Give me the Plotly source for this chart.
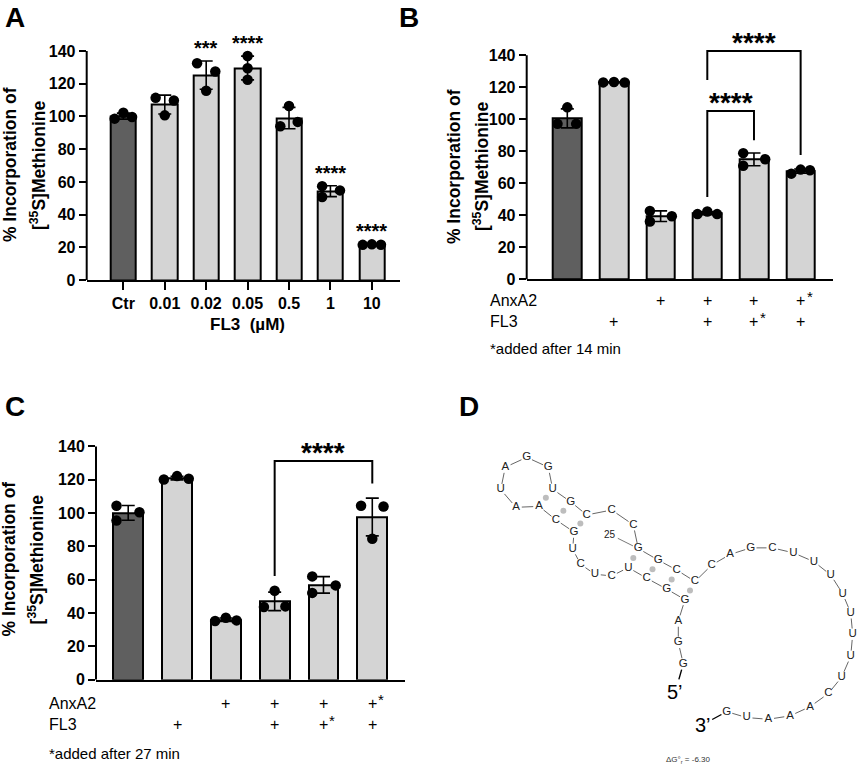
import numpy as np
import plotly.graph_objects as go

W, H = 858, 775

# ---------------- data ----------------
# panel A: FL3 dose series, three replicates per condition (% incorporation)
a_labels = ["Ctr", "0.01", "0.02", "0.05", "0.5", "1", "10"]
a_reps = [
    [98.7, 102.3, 99.7],
    [111.4, 100.7, 109.8],
    [132.6, 115.8, 127.5],
    [137.0, 129.5, 122.5],
    [94.0, 106.4, 96.7],
    [57.4, 50.8, 54.8],
    [21.5, 21.8, 21.6],
]
a_sig = ["", "", "***", "****", "", "****", "****"]

# panel B: AnxA2 / FL3 combinations (FL3 or AnxA2 added after 14 min)
b_reps = [
    [97.2, 107.5, 97.2],
    [123.1, 123.3, 123.0],
    [42.8, 36.2, 39.5],
    [40.8, 42.4, 40.8],
    [78.9, 71.0, 75.1],
    [66.1, 68.6, 68.2],
]
b_anx = ["", "", "+", "+", "+", "+*"]
b_fl3 = ["", "+", "", "+", "+*", "+"]

# panel C: same design, added after 27 min
c_reps = [
    [104.4, 95.5, 100.5],
    [120.2, 122.2, 120.6],
    [35.2, 37.2, 35.6],
    [43.6, 53.4, 44.0],
    [62.0, 52.1, 56.6],
    [104.4, 84.6, 104.0],
]
c_anx = ["", "", "+", "+", "+", "+*"]
c_fl3 = ["", "+", "", "+", "+*", "+"]

# panel D: RNA secondary structure (nucleotide layout in figure pixels)
rna_seq = "GGAGGCUCUCUGCAAUAGGUGCCCGGCCCAGCUUUUUUUUCAAAUG"
rna_x = [683.3, 678.3, 678.3, 685, 666.7, 646.7, 628.3, 611.7, 595, 580.7,
         572.7, 574, 556, 539, 516, 500.7, 505.3, 526.7, 548.3, 552.7,
         570.7, 586.7, 611.7, 633.3, 638.3, 658.3, 676.7, 695, 711.7, 730,
         750.7, 772.3, 793.3, 814, 830.7, 842.7, 850.7, 852.7, 850.7, 841.7,
         828.3, 810, 790, 768.3, 746.7, 726.7]
rna_y = [671.7, 650, 628.3, 606.7, 596, 585, 574.3, 582.7, 581, 571,
         555.7, 538.3, 526, 512.3, 513.3, 495.3, 472.7, 462.7, 472.7, 495,
         507.7, 521, 516, 531, 555, 566.7, 576.7, 588.3, 571.7, 561,
         554.3, 554.3, 559.3, 568.3, 581.7, 600.7, 620, 641.7, 664, 685,
         701.7, 715, 724.3, 727.7, 726, 720]
pair_i = [14, 13, 12, 7, 6, 5, 4]
pair_j = [20, 21, 22, 25, 26, 27, 28]
dG_text = "ΔG°<sub>r</sub> = -6.30"

# horizontal nudges of replicate dots (Prism-style spreading)
a_jit = [[-0.21, 0, 0.21], [-0.22, 0, 0.22], [-0.22, 0, 0.22], [0, 0, 0],
         [-0.21, 0, 0.21], [-0.2, -0.2, 0.23], [-0.22, 0, 0.22]]
b_jit = [[-0.21, 0, 0.19], [-0.23, 0, 0.23], [-0.23, -0.23, 0.24],
         [-0.21, 0, 0.21], [-0.23, -0.23, 0.24], [-0.2, 0, 0.2]]
c_jit = [[-0.24, -0.24, 0.23], [-0.27, 0, 0.24], [-0.22, 0, 0.22],
         [-0.22, 0, 0.22], [-0.23, -0.23, 0.25], [-0.23, 0, 0.23]]

DARK = "#5f5f5f"
LIGHT = "#d4d4d4"
FONT = "Arial, Liberation Sans, sans-serif"


def px(x):
    return x / W


def py(y):
    return 1 - y / H


fig = go.Figure()
annotations = []
shapes = []


def note(text, x, y, size, xanchor="center", yanchor="middle", bold=False, **kw):
    if bold:
        text = "<b>%s</b>" % text
    annotations.append(dict(text=text, x=px(x), y=py(y), xref="paper", yref="paper",
                            xanchor=xanchor, yanchor=yanchor, showarrow=False,
                            font=dict(size=size, family=FONT, color="black"), **kw))


def add_bars(reps, jit, xa, ya):
    means = [float(np.mean(r)) for r in reps]
    sds = [float(np.std(r, ddof=1)) for r in reps]
    idx = list(range(len(reps)))
    colors = [DARK] + [LIGHT] * (len(reps) - 1)
    fig.add_trace(go.Bar(
        x=idx, y=means, width=0.61, xaxis=xa, yaxis=ya,
        marker=dict(color=colors, line=dict(color="black", width=2)),
        showlegend=False, hoverinfo="skip"))
    fig.add_trace(go.Scatter(
        x=idx, y=means, mode="markers", xaxis=xa, yaxis=ya,
        marker=dict(size=1, color="rgba(0,0,0,0)"),
        error_y=dict(type="data", array=sds, color="black", thickness=1.6, width=6.5),
        showlegend=False, hoverinfo="skip"))
    dx, dy = [], []
    for i, (r, j) in enumerate(zip(reps, jit)):
        for v, o in zip(r, j):
            dx.append(i + o)
            dy.append(v)
    fig.add_trace(go.Scatter(
        x=dx, y=dy, mode="markers", xaxis=xa, yaxis=ya,
        marker=dict(size=10.5, color="black"),
        showlegend=False, hoverinfo="skip"))
    return means, sds


def y_title(x1, x2, yc, size=17.5):
    note("% Incorporation of", x1, yc, size, bold=True, textangle=-90)
    note("[<sup>35</sup>S]Methionine", x2, yc, size, bold=True, textangle=-90)


def yaxis_line(xa, ya):
    shapes.append(dict(type="line", xref="%s domain" % xa, yref=ya, x0=0, x1=0, y0=0, y1=140,
                       line=dict(color="black", width=2)))


def row_labels(anx, fl3, xa, x0, y_anx, y_fl3, y_note, foot):
    note("AnxA2", x0, y_anx, 16, xanchor="left")
    note("FL3", x0, y_fl3, 16, xanchor="left")
    for row, yy in ((anx, y_anx), (fl3, y_fl3)):
        for i, s in enumerate(row):
            if not s:
                continue
            annotations.append(dict(text="+", x=i, y=py(yy), xref=xa, yref="paper",
                                    xanchor="center", yanchor="middle", showarrow=False,
                                    font=dict(size=16, family=FONT, color="black")))
            if s.endswith("*"):
                annotations.append(dict(text="*", x=i, y=py(yy), xref=xa, yref="paper",
                                        xanchor="center", yanchor="middle",
                                        xshift=9, yshift=4, showarrow=False,
                                        font=dict(size=15, family=FONT, color="black")))
    note(foot, x0, y_note, 15, xanchor="left")


def bracket(xa, ya, xs, ys, stars, star_x, star_y, size=28):
    fig.add_trace(go.Scatter(x=xs, y=ys, mode="lines", xaxis=xa, yaxis=ya,
                             line=dict(color="black", width=2), showlegend=False,
                             hoverinfo="skip", cliponaxis=False))
    annotations.append(dict(text="<b>%s</b>" % stars, x=star_x, y=star_y, xref=xa, yref=ya,
                            xanchor="center", yanchor="bottom", yshift=-9, showarrow=False,
                            font=dict(size=size, family=FONT, color="black")))


# ---------------- panel A ----------------
a_mean, a_sd = add_bars(a_reps, a_jit, "x", "y")
for i, s in enumerate(a_sig):
    if s:
        top = max(a_mean[i] + a_sd[i], max(a_reps[i]))
        annotations.append(dict(text="<b>%s</b>" % s, x=i, y=top, xref="x", yref="y",
                                xanchor="center", yanchor="bottom", showarrow=False,
                                font=dict(size=20, family=FONT, color="black")))
note("FL3  (µM)", 248, 328, 17, bold=True)
y_title(10, 38, 167)
note("A", 15, 0, 28, yanchor="top", bold=True)
yaxis_line("x", "y")

# ---------------- panel B ----------------
add_bars(b_reps, b_jit, "x2", "y2")
bracket("x2", "y2", [3, 3, 4, 4], [51.5, 105.2, 105.2, 87.0], "****", 3.5, 105.2)
bracket("x2", "y2", [3, 3, 5, 5], [124.6, 142.7, 142.7, 77.8], "****", 4.0, 142.7)
row_labels(b_anx, b_fl3, "x2", 488, 304, 325, 353, "*added after 14 min")
y_title(454, 481, 168)
note("B", 409, 0, 28, yanchor="top", bold=True)
yaxis_line("x2", "y2")

# ---------------- panel C ----------------
add_bars(c_reps, c_jit, "x3", "y3")
bracket("x3", "y3", [3, 3, 5, 5], [62.3, 131.3, 131.3, 117.7], "****", 4.0, 131.3)
row_labels(c_anx, c_fl3, "x3", 46.7, 711.7, 733, 762.7, "*added after 27 min")
y_title(9, 36, 566)
note("C", 15, 411, 28, bold=True)
yaxis_line("x3", "y3")

# ---------------- panel D ----------------
shrink = 5.8
bx, by = [], []
for k in range(len(rna_seq) - 1):
    x0, y0, x1, y1 = rna_x[k], rna_y[k], rna_x[k + 1], rna_y[k + 1]
    d = np.hypot(x1 - x0, y1 - y0)
    ux, uy = (x1 - x0) / d, (y1 - y0) / d
    bx += [x0 + ux * shrink, x1 - ux * shrink, None]
    by += [y0 + uy * shrink, y1 - uy * shrink, None]
fig.add_trace(go.Scatter(x=bx, y=by, mode="lines", xaxis="x4", yaxis="y4",
                         line=dict(color="#555555", width=0.9), showlegend=False, hoverinfo="skip"))
mx = [(rna_x[i - 1] + rna_x[j - 1]) / 2 for i, j in zip(pair_i, pair_j)]
my = [(rna_y[i - 1] + rna_y[j - 1]) / 2 for i, j in zip(pair_i, pair_j)]
fig.add_trace(go.Scatter(x=mx, y=my, mode="markers", xaxis="x4", yaxis="y4",
                         marker=dict(size=6, color="#bdbdbd"), showlegend=False, hoverinfo="skip"))
fig.add_trace(go.Scatter(x=rna_x, y=rna_y, mode="text", text=list(rna_seq), xaxis="x4", yaxis="y4",
                         textfont=dict(size=11.5, family=FONT, color="#222222"),
                         showlegend=False, hoverinfo="skip", cliponaxis=False))
annotations.append(dict(text="25", x=rna_x[24], y=rna_y[24], xref="x4", yref="y4",
                        ax=-28, ay=-14, showarrow=True, arrowhead=0, arrowwidth=0.8,
                        arrowcolor="#555555", standoff=6,
                        font=dict(size=10, family=FONT, color="#222222")))
annotations.append(dict(text="5’", x=rna_x[0], y=rna_y[0], xref="x4", yref="y4",
                        ax=-8, ay=28, showarrow=True, arrowhead=0, arrowwidth=1.4,
                        arrowcolor="black", standoff=6,
                        font=dict(size=20, family=FONT, color="black")))
annotations.append(dict(text="3’", x=rna_x[-1], y=rna_y[-1], xref="x4", yref="y4",
                        ax=-24, ay=13, showarrow=True, arrowhead=0, arrowwidth=1.4,
                        arrowcolor="black", standoff=6,
                        font=dict(size=20, family=FONT, color="black")))
annotations.append(dict(text=dG_text, x=688, y=769, xref="x4", yref="y4", showarrow=False,
                        xanchor="center", yanchor="middle",
                        font=dict(size=8, family=FONT, color="#333333")))
note("D", 469, 411, 28, bold=True)

# ---------------- axes ----------------
tick_font = dict(size=16, family=FONT, color="black", weight="bold")
common_x = dict(showline=True, linecolor="black", linewidth=2, showgrid=False, zeroline=False,
                fixedrange=True)
common_y = dict(range=[0, 160], tickvals=list(range(0, 141, 20)), ticks="outside", ticklen=7,
                tickwidth=2, tickcolor="black", tickfont=tick_font, showline=False,
                showgrid=False, zeroline=False, fixedrange=True)

fig.update_layout(
    width=W, height=H, margin=dict(l=0, r=0, t=0, b=0),
    paper_bgcolor="white", plot_bgcolor="rgba(0,0,0,0)",
    showlegend=False, bargap=0,
    xaxis=dict(domain=[px(86.7), px(400)], range=[-0.885, 6.68], anchor="y",
               tickvals=list(range(7)), ticktext=a_labels, ticks="outside", ticklen=8,
               tickwidth=2, tickcolor="black", tickfont=tick_font, **common_x),
    yaxis=dict(domain=[py(283.3), py(283.3 - 160 * 231.6 / 140)], anchor="x", **common_y),
    xaxis2=dict(domain=[px(526.7), px(833.3)], range=[-0.87, 5.70], anchor="y2",
                showticklabels=False, ticks="", **common_x),
    yaxis2=dict(domain=[py(282.7), py(282.7 - 160 * 226.7 / 140)], anchor="x2", **common_y),
    xaxis3=dict(domain=[px(96), px(405)], range=[-0.66, 5.67], anchor="y3",
                showticklabels=False, ticks="", **common_x),
    yaxis3=dict(domain=[py(687.7), py(687.7 - 160 * 236 / 140)], anchor="x3", **common_y),
    xaxis4=dict(domain=[px(430), 1], range=[430, 858], anchor="y4", visible=False,
                fixedrange=True),
    yaxis4=dict(domain=[0, py(390)], range=[775, 390], anchor="x4", visible=False,
                fixedrange=True),
    annotations=annotations,
    shapes=shapes,
    font=dict(family=FONT, color="black"),
)

fig.write_html("out.html", config={"displayModeBar": False},
               post_script="document.body.style.margin='0px';")
